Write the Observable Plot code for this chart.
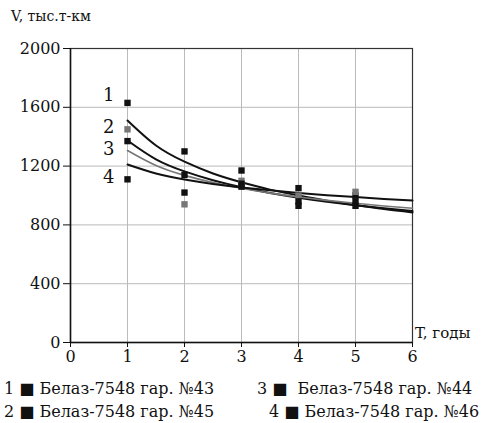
<!DOCTYPE html>
<html><head><meta charset="utf-8">
<script src="https://cdn.jsdelivr.net/npm/d3@7"></script>
<script src="https://cdn.jsdelivr.net/npm/@observablehq/plot@0.6"></script>
<style>
body{margin:0;background:#fff;}
#wrap{position:relative;width:484px;height:423px;font-family:"DejaVu Serif",serif;color:#111;}
.t{position:absolute;white-space:pre;line-height:1;}
</style></head>
<body><div id="wrap"></div>
<script>
const T = [1, 2, 3, 4, 5];
const s1 = [1630, 1300, 1170, 1050, 1000];
const s2 = [1450, 940, 1100, 1000, 1025];
const s3 = [1370, 1140, 1080, 960, 930];
const s4 = [1110, 1020, 1060, 930, 960];
const seriesNames = ["1", "2", "3", "4"];
const seriesColors = ["#111", "#777", "#111", "#111"];

const curveT = [1, 1.5, 2, 2.5, 3, 3.5, 4, 4.5, 5, 5.5, 6];
const c1 = [1510, 1340, 1230, 1150, 1090, 1040, 1000, 965, 935, 908, 885];
const c2 = [1374, 1246, 1164, 1104, 1056, 1017, 985, 958, 934, 913, 894];
const c3 = [1306, 1204, 1137, 1088, 1049, 1016, 990, 967, 947, 929, 913];
const c4 = [1211, 1150, 1109, 1079, 1055, 1035, 1017, 1002, 989, 977, 966];
const curveColors = ["#111", "#111", "#777", "#111"];
const curveWidths = [2, 2, 1.6, 2];

const labelX = [0.67, 0.67, 0.67, 0.67];
const labelY = [1680, 1463, 1318, 1122];

const xTicks = [0, 1, 2, 3, 4, 5, 6];
const yTicks = [0, 400, 800, 1200, 1600, 2000];
const legendRows = [
  ["1 ■ Белаз-7548 гар. №43", "3 ■  Белаз-7548 гар. №44"],
  ["2 ■ Белаз-7548 гар. №45", "4 ■ Белаз-7548 гар. №46"]
];

const pts = [];
[s1, s2, s3, s4].forEach((s, i) => s.forEach((v, j) => pts.push({t: T[j], v, k: i})));
const curves = [c1, c2, c3, c4].map((c, i) => c.map((v, j) => ({t: curveT[j], v, k: i})));
const labels = seriesNames.map((n, i) => ({n, x: labelX[i], y: labelY[i]}));

const chart = Plot.plot({
  width: 484, height: 372,
  marginLeft: 70, marginRight: 72, marginTop: 48, marginBottom: 30,
  style: {fontFamily: "DejaVu Serif, serif", fontSize: "16px", color: "#111", background: "#fff"},
  x: {domain: [0, 6]},
  y: {domain: [0, 2000]},
  marks: [
    Plot.gridX(xTicks, {stroke: "#bbb", strokeOpacity: 1, strokeWidth: 1}),
    Plot.gridY(yTicks, {stroke: "#bbb", strokeOpacity: 1, strokeWidth: 1}),
    Plot.frame({stroke: "#333", strokeWidth: 1.2}),
    Plot.axisX({ticks: xTicks, tickSize: 5, tickPadding: 3, label: null, tickFormat: d => String(d), fontSize: 16}),
    Plot.axisY({ticks: yTicks, tickSize: 7, tickPadding: 3, label: null, tickFormat: d => String(d), fontSize: 16}),
    Plot.ruleX([0], {stroke: "#111", strokeWidth: 1.5}),
    Plot.ruleY([0], {stroke: "#111", strokeWidth: 1.5}),
    ...curves.map((c, i) => Plot.line(c, {x: "t", y: "v", curve: "natural", stroke: curveColors[i], strokeWidth: curveWidths[i]})),
    Plot.dot(pts, {x: "t", y: "v", symbol: "square", r: 3.6, fill: d => seriesColors[d.k], stroke: "none"}),
    Plot.text(labels, {x: "x", y: "y", text: "n", fontSize: 18, fill: "#111"})
  ]
});
const wrap = document.getElementById("wrap");
chart.style.position = "absolute"; chart.style.left = "0"; chart.style.top = "0";
wrap.appendChild(chart);

function addText(txt, left, top, size, extra) {
  const d = document.createElement("div");
  d.className = "t"; d.textContent = txt;
  d.style.left = left + "px"; d.style.top = top + "px"; d.style.fontSize = size + "px";
  if (extra) Object.assign(d.style, extra);
  wrap.appendChild(d);
}
addText("V, тыс.т-км", 11, 9, 14, {fontWeight: "normal"});
addText("T, годы", 415, 326, 15);
addText(legendRows[0][0], 4, 381, 16);
addText(legendRows[0][1], 257, 381, 16);
addText(legendRows[1][0], 4, 404, 16);
addText(legendRows[1][1], 269, 404, 16);
</script></body></html>
